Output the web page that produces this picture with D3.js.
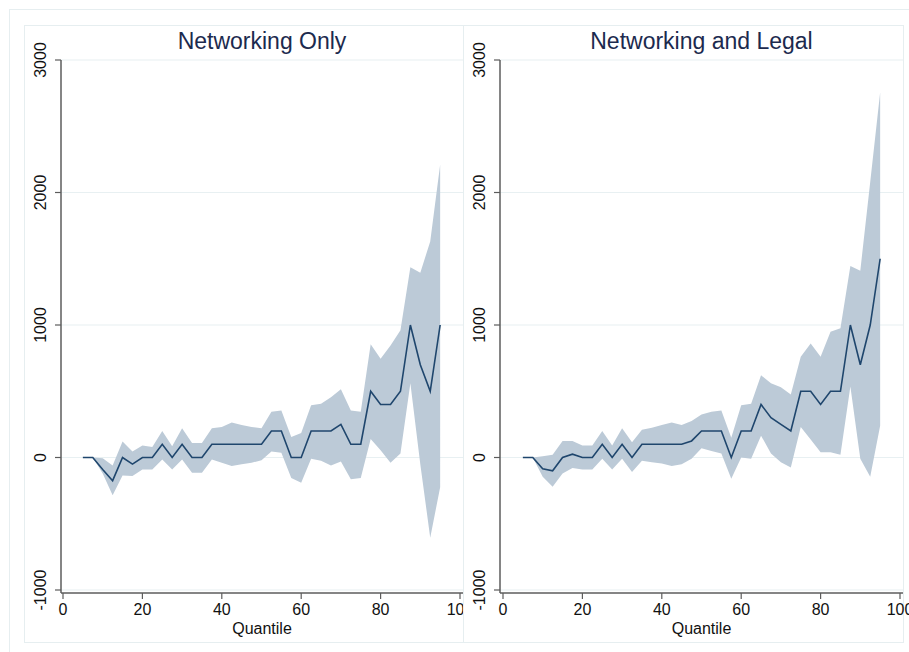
<!DOCTYPE html>
<html>
<head>
<meta charset="utf-8">
<script src="https://cdn.jsdelivr.net/npm/d3@7"></script>
<style>
  body { margin: 0; background: #fff; }
  text { font-family: "Liberation Sans", Arial, sans-serif; }
</style>
</head>
<body>
<div id="chart"></div>
<script>
// quantiles (x values) shared by both panels
var quantiles = [5, 7.5, 10, 12.5, 15, 17.5, 20, 22.5, 25, 27.5, 30, 32.5, 35, 37.5, 40, 42.5, 45, 47.5, 50,
  52.5, 55, 57.5, 60, 62.5, 65, 67.5, 70, 72.5, 75, 77.5, 80, 82.5, 85, 87.5, 90, 92.5, 95];

// Networking Only
var netCoef = [0, 0, -90, -175, 0, -50, 0, 0, 100, 0, 100, 0, 0, 100, 100, 100, 100, 100, 100,
  200, 200, 0, 0, 200, 200, 200, 250, 100, 100, 500, 400, 400, 500, 1000, 700, 500, 1000];
var netHi = [0, 0, -5, -60, 120, 45, 90, 80, 200, 85, 220, 110, 110, 220, 230, 265, 245, 230, 220,
  345, 355, 155, 185, 395, 405, 455, 515, 355, 345, 855, 745, 845, 960, 1435, 1395, 1630, 2210];
var netLo = [0, 0, -120, -285, -135, -140, -90, -90, -15, -90, -15, -115, -115, -15, -40, -65, -50, -40, -20,
  45, 35, -155, -190, -10, -25, -60, -30, -165, -155, 140, 55, -40, 30, 560, -50, -605, -225];

// Networking and Legal
var legCoef = [0, 0, -85, -100, 0, 25, 0, 0, 100, 0, 100, 0, 100, 100, 100, 100, 100, 125, 200,
  200, 200, 0, 200, 200, 400, 300, 250, 200, 500, 500, 400, 500, 500, 1000, 700, 1000, 1500];
var legHi = [0, 0, 10, 20, 125, 125, 90, 90, 200, 90, 220, 115, 210, 225, 245, 265, 245, 275, 325,
  345, 355, 150, 395, 405, 620, 560, 530, 475, 760, 860, 760, 950, 975, 1445, 1410, 2080, 2755];
var legLo = [0, 0, -145, -220, -120, -80, -90, -90, -10, -90, -10, -110, -25, -35, -45, -65, -50, -10, 70,
  50, 30, -160, 0, -10, 165, 30, -35, -75, 230, 135, 40, 40, 20, 535, -10, -145, 240];

var titles = ["Networking Only", "Networking and Legal"];
var yTicks = [-1000, 0, 1000, 2000, 3000];
var xTicks = [0, 20, 40, 60, 80, 100];
var xLabel = "Quantile";

var bandColor = "#bccad7";
var lineColor = "#1f466d";
var gridColor = "#e8f0f2";
var frameColor = "#e6eef0";
var axisColor = "#5c5c5c";

var W = 909, H = 652;
var svg = d3.select("#chart").append("svg")
  .attr("width", W)
  .attr("height", H);

// outer frame
svg.append("rect")
  .attr("x", 9.5).attr("y", 9.5)
  .attr("width", W + 20).attr("height", H + 20)
  .attr("fill", "none").attr("stroke", frameColor);

var panels = [
  { title: titles[0], coef: netCoef, hi: netHi, lo: netLo, left: 24, right: 463, clipR: 463, axisX: 61, x0: 63, x1: 460 },
  { title: titles[1], coef: legCoef, hi: legHi, lo: legLo, left: 463, right: 903, clipR: 920, axisX: 500, x0: 503, x1: 900 }
];

var y = d3.scaleLinear().domain([-1000, 3000]).range([590, 60]);
var axisY = 593;

panels.forEach(function (p, k) {
  var rows = quantiles.map(function (q, i) {
    return { q: q, c: p.coef[i], hi: p.hi[i], lo: p.lo[i] };
  });
  var x = d3.scaleLinear().domain([0, 100]).range([p.x0, p.x1]);

  svg.append("clipPath").attr("id", "clip" + k)
    .append("rect")
    .attr("x", p.left).attr("y", 25)
    .attr("width", p.clipR - p.left).attr("height", 619);

  var g = svg.append("g").attr("clip-path", "url(#clip" + k + ")");

  // panel box
  g.append("rect")
    .attr("x", p.left + 0.5).attr("y", 25.5)
    .attr("width", p.right - p.left).attr("height", 617)
    .attr("fill", "none").attr("stroke", frameColor);

  // grid lines
  g.selectAll(".grid").data(yTicks).enter().append("line")
    .attr("x1", p.axisX).attr("x2", p.right)
    .attr("y1", function (d) { return y(d); })
    .attr("y2", function (d) { return y(d); })
    .attr("stroke", gridColor).attr("stroke-width", 1.2);

  // confidence band
  g.append("path")
    .datum(rows)
    .attr("fill", bandColor)
    .attr("d", d3.area()
      .x(function (d) { return x(d.q); })
      .y0(function (d) { return y(d.lo); })
      .y1(function (d) { return y(d.hi); }));

  // coefficient line
  g.append("path")
    .datum(rows)
    .attr("fill", "none")
    .attr("stroke", lineColor)
    .attr("stroke-width", 1.6)
    .attr("d", d3.line()
      .x(function (d) { return x(d.q); })
      .y(function (d) { return y(d.c); }));

  // y axis
  g.append("line")
    .attr("x1", p.axisX).attr("x2", p.axisX)
    .attr("y1", y(3000)).attr("y2", axisY)
    .attr("stroke", axisColor).attr("stroke-width", 1.5);
  g.selectAll(".ytick").data(yTicks).enter().append("line")
    .attr("x1", p.axisX - 6).attr("x2", p.axisX)
    .attr("y1", function (d) { return y(d); })
    .attr("y2", function (d) { return y(d); })
    .attr("stroke", axisColor).attr("stroke-width", 1.2);
  g.selectAll(".ylab").data(yTicks).enter().append("text")
    .attr("transform", function (d) { return "translate(" + (p.axisX - 15) + "," + y(d) + ") rotate(-90)"; })
    .attr("text-anchor", "middle")
    .attr("font-size", 16)
    .attr("fill", "#111")
    .text(function (d) { return d; });

  // x axis
  g.append("line")
    .attr("x1", p.axisX).attr("x2", p.x1 + 3)
    .attr("y1", axisY).attr("y2", axisY)
    .attr("stroke", axisColor).attr("stroke-width", 1.5);
  g.selectAll(".xtick").data(xTicks).enter().append("line")
    .attr("x1", function (d) { return x(d); })
    .attr("x2", function (d) { return x(d); })
    .attr("y1", axisY).attr("y2", axisY + 6)
    .attr("stroke", axisColor).attr("stroke-width", 1.2);
  g.selectAll(".xlab").data(xTicks).enter().append("text")
    .attr("x", function (d) { return x(d); })
    .attr("y", 615)
    .attr("text-anchor", "middle")
    .attr("font-size", 16)
    .attr("fill", "#111")
    .text(function (d) { return d; });

  g.append("text")
    .attr("x", (p.axisX + p.x1 + 3) / 2)
    .attr("y", 634)
    .attr("text-anchor", "middle")
    .attr("font-size", 16)
    .attr("fill", "#111")
    .text(xLabel);

  // title
  g.append("text")
    .attr("x", (p.axisX + p.x1 + 3) / 2)
    .attr("y", 49)
    .attr("text-anchor", "middle")
    .attr("font-size", 23)
    .attr("fill", "#1c2a4e")
    .text(p.title);
});
</script>
</body>
</html>
